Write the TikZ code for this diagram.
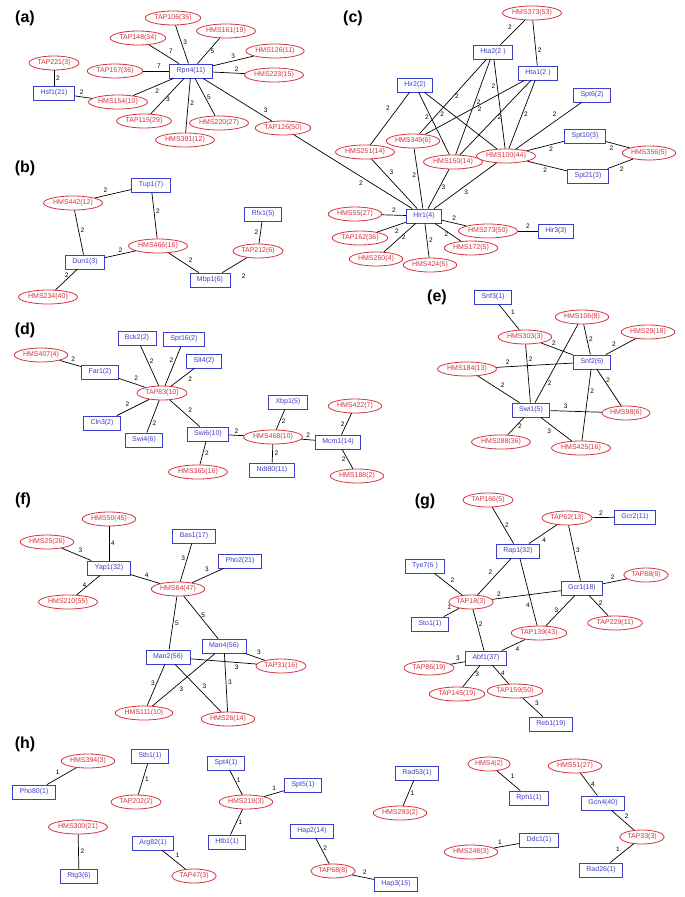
\documentclass[tikz,border=0pt]{standalone}
\usepackage{fontspec}
\setmainfont{Liberation Sans}
\usepackage{xcolor}
\usepackage{tikz}
\usetikzlibrary{shapes.geometric}

\definecolor{tapred}{RGB}{214,52,62}
\definecolor{tfblue}{RGB}{62,62,205}

\begin{document}
\begin{tikzpicture}[x = 1pt, y = -1pt,
		tap/.style = {ellipse, draw = tapred, text = tapred, fill = white, line width = 0.8pt, inner xsep = 1pt, inner ysep = 0pt, minimum height = 14pt, font = \fontsize{7}{8}\selectfont},
		tf/.style = {rectangle, draw = tfblue, text = tfblue, fill = white, line width = 0.8pt, inner xsep = 7pt, inner ysep = 0pt, minimum height = 14pt, font = \fontsize{7}{8}\selectfont},
		link/.style = {line width = 0.7pt},
		num/.style = {font = \fontsize{6.5}{7}\selectfont, inner sep = 1.8pt},
		panel/.style = {font = \fontsize{16}{18}\selectfont\bfseries}]
		\useasboundingbox (0,0) rectangle (685,897);

		% (a)
		\node [panel] (lbla) at (25,18) {(a)};
		\node [tap] (tap106) at (173,18) {TAP106(35)};
		\node [tap] (hms161) at (226,31) {HMS161(19)};
		\node [tap] (tap148) at (138,38) {TAP148(34)};
		\node [tap] (hms126) at (275,51) {HMS126(11)};
		\node [tap] (tap221) at (54,63) {TAP221(3)};
		\node [tap] (tap157) at (115,71) {TAP157(36)};
		\node [tf] (rpn4) at (191,71) {Rpn4(11)};
		\node [tap] (hms223) at (274,75) {HMS223(15)};
		\node [tf] (hsf1) at (54,93) {Hsf1(21)};
		\node [tap] (hms154) at (118,102) {HMS154(10)};
		\node [tap] (tap115) at (144,121) {TAP115(29)};
		\node [tap] (hms220) at (219,123) {HMS220(27)};
		\node [tap] (tap126) at (283,128) {TAP126(50)};
		\node [tap] (hms391) at (185,140) {HMS391(12)};

		% (c)
		\node [panel] (lblc) at (353,18) {(c)};
		\node [tap] (hms373) at (532,13) {HMS373(53)};
		\node [tf] (hta2) at (493,52) {Hta2(2 )};
		\node [tf] (hta1) at (538,73) {Hta1(2 )};
		\node [tf] (hir2) at (415,85) {Hir2(2)};
		\node [tf] (spt6) at (592,95) {Spt6(2)};
		\node [tf] (spt10) at (585,136) {Spt10(3)};
		\node [tap] (hms349) at (413,141) {HMS349(6)};
		\node [tap] (hms251) at (365,152) {HMS251(14)};
		\node [tap] (hms150) at (453,162) {HMS150(14)};
		\node [tap] (hms100) at (506,156) {HMS100(44)};
		\node [tap] (hms356) at (649,153) {HMS356(5)};
		\node [tf] (spt21) at (588,176) {Spt21(3)};
		\node [tf] (hir1) at (424,216) {Hir1(4)};
		\node [tap] (hms55) at (355,214) {HMS55(27)};
		\node [tap] (tap162) at (360,238) {TAP162(36)};
		\node [tap] (hms273) at (488,231) {HMS273(50)};
		\node [tf] (hir3) at (556,231) {Hir3(3)};
		\node [tap] (hms172) at (471,248) {HMS172(5)};
		\node [tap] (hms250) at (376,259) {HMS250(4)};
		\node [tap] (hms424) at (430,265) {HMS424(5)};

		% (b)
		\node [panel] (lblb) at (25,168) {(b)};
		\node [tf] (tup1) at (151,185) {Tup1(7)};
		\node [tap] (hms442) at (73,203) {HMS442(12)};
		\node [tf] (rfx1) at (263,214) {Rfx1(5)};
		\node [tap] (hms466) at (158,246) {HMS466(16)};
		\node [tap] (tap212) at (258,251) {TAP212(6)};
		\node [tf] (dun1) at (85,262) {Dun1(3)};
		\node [tf] (mbp1) at (210,280) {Mbp1(6)};
		\node [tap] (hms234) at (48,297) {HMS234(40)};

		% (d)
		\node [panel] (lbld) at (25,330) {(d)};
		\node [tf] (bck2) at (137,338) {Bck2(2)};
		\node [tf] (spt16) at (184,339) {Spt16(2)};
		\node [tf] (slt4) at (204,361) {Slt4(2)};
		\node [tap] (hms407) at (41,355) {HMS407(4)};
		\node [tf] (far1) at (100,372) {Far1(2)};
		\node [tap] (tap83) at (162,393) {TAP83(10)};
		\node [tf] (xbp1) at (288,402) {Xbp1(5)};
		\node [tap] (hms422) at (355,406) {HMS422(7)};
		\node [tf] (cln3) at (102,423) {Cln3(2)};
		\node [tf] (swi4) at (144,440) {Swi4(6)};
		\node [tf] (swi6) at (208,434) {Swi6(10)};
		\node [tap] (hms468) at (273,437) {HMS468(10)};
		\node [tf] (mcm1) at (338,442) {Mcm1(14)};
		\node [tap] (hms365) at (198,472) {HMS365(16)};
		\node [tf] (ndt80) at (272,470) {Ndt80(11)};
		\node [tap] (hms188) at (357,476) {HMS188(2)};

		% (e)
		\node [panel] (lble) at (437,297) {(e)};
		\node [tf] (snf3) at (493,297) {Snf3(1)};
		\node [tap] (hms106) at (582,317) {HMS106(8)};
		\node [tap] (hms29) at (648,332) {HMS29(18)};
		\node [tap] (hms303) at (525,337) {HMS303(3)};
		\node [tf] (snf2) at (592,362) {Snf2(6)};
		\node [tap] (hms184) at (467,369) {HMS184(13)};
		\node [tf] (swi1) at (531,410) {Swi1(5)};
		\node [tap] (hms98) at (626,413) {HMS98(6)};
		\node [tap] (hms288) at (501,442) {HMS288(36)};
		\node [tap] (hms425) at (581,448) {HMS425(16)};

		% (f)
		\node [panel] (lblf) at (23,500) {(f)};
		\node [tap] (hms50) at (109,519) {HMS50(45)};
		\node [tap] (hms25) at (47,542) {HMS25(26)};
		\node [tf] (bas1) at (194,536) {Bas1(17)};
		\node [tf] (yap1) at (109,568) {Yap1(32)};
		\node [tf] (pho2) at (240,561) {Pho2(21)};
		\node [tap] (hms84) at (178,589) {HMS84(47)};
		\node [tap] (hms210) at (68,602) {HMS210(55)};
		\node [tf] (man4) at (224,646) {Man4(56)};
		\node [tf] (man2) at (168,657) {Man2(56)};
		\node [tap] (tap31) at (281,666) {TAP31(16)};
		\node [tap] (hms111) at (144,713) {HMS111(10)};
		\node [tap] (hms26) at (228,719) {HMS26(14)};

		% (g)
		\node [panel] (lblg) at (425,501) {(g)};
		\node [tap] (tap166) at (488,500) {TAP166(5)};
		\node [tap] (tap62) at (567,518) {TAP62(13)};
		\node [tf] (gcr2) at (635,517) {Gcr2(11)};
		\node [tf] (rap1) at (518,551) {Rap1(32)};
		\node [tf] (tye7) at (425,566) {Tye7(6 )};
		\node [tap] (tap88) at (646,575) {TAP88(9)};
		\node [tf] (gcr1) at (582,588) {Gcr1(18)};
		\node [tap] (tap18) at (471,602) {TAP18(3)};
		\node [tf] (sto1) at (430,624) {Sto1(1)};
		\node [tap] (tap229) at (615,623) {TAP229(11)};
		\node [tap] (tap139) at (539,633) {TAP139(43)};
		\node [tf] (abf1) at (486,658) {Abf1(37)};
		\node [tap] (tap86) at (429,668) {TAP86(19)};
		\node [tap] (tap145) at (457,694) {TAP145(19)};
		\node [tap] (tap159) at (515,691) {TAP159(50)};
		\node [tf] (reb1) at (551,724) {Reb1(19)};

		% (h)
		\node [panel] (lblh) at (25,744) {(h)};
		\node [tap] (hms394) at (88,761) {HMS394(3)};
		\node [tf] (pho80) at (34,792) {Pho80(1)};
		\node [tf] (stb1) at (150,756) {Stb1(1)};
		\node [tap] (tap202) at (136,802) {TAP202(2)};
		\node [tf] (spt4) at (226,763) {Spt4(1)};
		\node [tf] (spt5) at (303,785) {Spt5(1)};
		\node [tap] (hms219) at (246,802) {HMS219(3)};
		\node [tap] (hms300) at (78,827) {HMS300(21)};
		\node [tf] (arg82) at (153,843) {Arg82(1)};
		\node [tf] (htb1) at (227,842) {Htb1(1)};
		\node [tf] (hap2) at (312,831) {Hap2(14)};
		\node [tf] (rtg3) at (79,876) {Rtg3(6)};
		\node [tap] (tap47) at (194,876) {TAP47(3)};
		\node [tap] (tap68) at (333,871) {TAP68(8)};
		\node [tf] (hap3) at (396,884) {Hap3(15)};
		\node [tf] (rad53) at (417,773) {Rad53(1)};
		\node [tap] (hms293) at (400,813) {HMS293(2)};
		\node [tap] (hms4) at (489,764) {HMS4(2)};
		\node [tf] (rph1) at (529,798) {Rph1(1)};
		\node [tap] (hms51) at (575,766) {HMS51(27)};
		\node [tf] (gcn4) at (603,803) {Gcn4(40)};
		\node [tap] (tap33) at (642,837) {TAP33(3)};
		\node [tf] (ddc1) at (539,840) {Ddc1(1)};
		\node [tap] (hms248) at (471,852) {HMS248(3)};
		\node [tf] (rad26) at (601,870) {Rad26(1)};

		% links (a)
		\draw [link] (tap221) -- node [num, right] {2} (hsf1);
		\draw [link] (hsf1) -- node [num, above, pos = .4] {2} (hms154);
		\draw [link] (hms154) -- node [num, below right] {2} (rpn4);
		\draw [link] (tap157) -- node [num, above, pos = .6] {7} (rpn4);
		\draw [link] (tap148) -- node [num, above right, pos = .6] {7} (rpn4);
		\draw [link] (tap106) -- node [num, right, pos = .45] {3} (rpn4);
		\draw [link] (hms161) -- node [num, right] {5} (rpn4);
		\draw [link] (rpn4) -- node [num, above] {3} (hms126);
		\draw [link] (rpn4) -- node [num, above, pos = .75] {2} (hms223);
		\draw [link] (rpn4) -- node [num, right, pos = .6] {3} (tap115);
		\draw [link] (rpn4) -- node [num, right, pos = .45] {2} (hms391);
		\draw [link] (rpn4) -- node [num, right] {5} (hms220);
		\draw [link] (rpn4) -- node [num, above right, pos = .85] {3} (tap126);
		\draw [link] (tap126) -- node [num, below left, pos = .6] {2} (hir1);

		% links (c)
		\draw [link] (hms373) -- node [num, above left, pos = .45] {2} (hta2);
		\draw [link] (hms373) -- node [num, right, pos = .65] {2} (hta1);
		\draw [link] (hta2) -- node [num, right] {2} (hms349);
		\draw [link] (hta2) -- node [num, right, pos = .45] {2} (hms150);
		\draw [link] (hta2) -- node [num, left, pos = .3] {2} (hms100);
		\draw [link] (hta1) -- node [num, below, pos = .45] {2} (hms349);
		\draw [link] (hta1) -- node [num, right] {2} (hms150);
		\draw [link] (hta1) -- node [num, right] {2} (hms100);
		\draw [link] (hir2) -- node [num, left = 6pt, pos = .3] {2} (hms251);
		\draw [link] (hir2) -- node [num, left, pos = .4] {2} (hms150);
		\draw [link] (hir2) -- node [num, below left, pos = .3] {2} (hms100);
		\draw [link] (spt6) -- node [num, above left, pos = .35] {2} (hms100);
		\draw [link] (spt10) -- node [num, below, pos = .35] {2} (hms100);
		\draw [link] (spt10) -- node [num, below left, pos = .4] {2} (hms356);
		\draw [link] (hms100) -- node [num, below, pos = .45] {2} (spt21);
		\draw [link] (spt21) -- node [num, below right, pos = .4] {2} (hms356);
		\draw [link] (hms251) -- node [num, above right, pos = .35] {3} (hir1);
		\draw [link] (hms349) -- node [num, left, pos = .45] {2} (hir1);
		\draw [link] (hms150) -- node [num, right, pos = .45] {3} (hir1);
		\draw [link] (hms100) -- node [num, below right, pos = .55] {3} (hir1);
		\draw [link] (hms55) -- node [num, above] {2} (hir1);
		\draw [link] (tap162) -- node [num, below right, pos = .55] {2} (hir1);
		\draw [link] (hms250) -- node [num, right] {2} (hir1);
		\draw [link] (hms424) -- node [num, right] {2} (hir1);
		\draw [link] (hir1) -- node [num, left, pos = .6] {2} (hms172);
		\draw [link] (hir1) -- node [num, above] {2} (hms273);
		\draw [link] (hms273) -- node [num, above] {2} (hir3);

		% links (b)
		\draw [link] (hms442) -- node [num, above left, pos = .4] {2} (tup1);
		\draw [link] (tup1) -- node [num, right, pos = .4] {2} (hms466);
		\draw [link] (hms442) -- node [num, right, pos = .45] {2} (dun1);
		\draw [link] (dun1) -- node [num, above] {2} (hms466);
		\draw [link] (hms466) -- node [num, above right, pos = .6] {2} (mbp1);
		\draw [link] (mbp1) -- node [num, pos = .3, xshift = 14pt, yshift = -8pt] {2} (tap212);
		\draw [link] (rfx1) -- node [num, left] {2} (tap212);
		\draw [link] (dun1) -- node [num, left, pos = .3] {2} (hms234);

		% links (d)
		\draw [link] (hms407) -- node [num, above right, pos = .45] {2} (far1);
		\draw [link] (far1) -- node [num, above right] {2} (tap83);
		\draw [link] (bck2) -- node [num, right, pos = .4] {2} (tap83);
		\draw [link] (spt16) -- node [num, left, pos = .35] {2} (tap83);
		\draw [link] (slt4) -- node [num, below right, pos = .35] {2} (tap83);
		\draw [link] (tap83) -- node [num, above left, pos = .55] {2} (cln3);
		\draw [link] (tap83) -- node [num, right, pos = .7] {2} (swi4);
		\draw [link] (tap83) -- node [num, above right, pos = .55] {2} (swi6);
		\draw [link] (swi6) -- node [num, above] {2} (hms468);
		\draw [link] (swi6) -- node [num, right] {2} (hms365);
		\draw [link] (hms468) -- node [num, right, pos = .4] {2} (xbp1);
		\draw [link] (hms468) -- node [num, right] {2} (ndt80);
		\draw [link] (hms468) -- node [num, above] {2} (mcm1);
		\draw [link] (mcm1) -- node [num, left] {2} (hms422);
		\draw [link] (mcm1) -- node [num, left] {2} (hms188);

		% links (e)
		\draw [link] (snf3) -- node [num, above right] {1} (hms303);
		\draw [link] (hms303) -- node [num, above, pos = .4] {2} (snf2);
		\draw [link] (hms303) -- node [num, right, pos = .25] {2} (swi1);
		\draw [link] (hms106) -- node [num, right] {2} (snf2);
		\draw [link] (hms106) -- node [num, right, pos = .75] {2} (swi1);
		\draw [link] (hms29) -- node [num, above left, pos = .6] {2} (snf2);
		\draw [link] (hms184) -- node [num, above, pos = .15] {2} (snf2);
		\draw [link] (hms184) -- node [num, above right] {2} (swi1);
		\draw [link] (snf2) -- node [num, right, pos = .3] {2} (hms98);
		\draw [link] (snf2) -- node [num, right, pos = .3] {2} (hms425);
		\draw [link] (swi1) -- node [num, above, pos = .3] {3} (hms98);
		\draw [link] (swi1) -- node [num, right] {2} (hms288);
		\draw [link] (swi1) -- node [num, below left, pos = .4] {3} (hms425);

		% links (f)
		\draw [link] (hms50) -- node [num, right] {4} (yap1);
		\draw [link] (hms25) -- node [num, above right] {3} (yap1);
		\draw [link] (yap1) -- node [num, left] {4} (hms210);
		\draw [link] (yap1) -- node [num, above, pos = .55] {4} (hms84);
		\draw [link] (bas1) -- node [num, left, pos = .4] {3} (hms84);
		\draw [link] (pho2) -- node [num, above left, pos = .4] {3} (hms84);
		\draw [link] (hms84) -- node [num, right] {5} (man2);
		\draw [link] (hms84) -- node [num, right, pos = .45] {5} (man4);
		\draw [link] (man4) -- node [num, above right] {3} (tap31);
		\draw [link] (man2) -- node [num, below, pos = .7] {3} (tap31);
		\draw [link] (man2) -- node [num, left, pos = .45] {3} (hms111);
		\draw [link] (man4) -- node [num, below right, pos = .6] {3} (hms111);
		\draw [link] (man2) -- node [num, above right, pos = .55] {3} (hms26);
		\draw [link] (man4) -- node [num, right] {3} (hms26);

		% links (g)
		\draw [link] (tap166) -- node [num, right] {2} (rap1);
		\draw [link] (rap1) -- node [num, below right, pos = .4] {4} (tap62);
		\draw [link] (tap62) -- node [num, above, pos = .4] {2} (gcr2);
		\draw [link] (tap62) -- node [num, right, pos = .45] {3} (gcr1);
		\draw [link] (tye7) -- node [num, above right] {2} (tap18);
		\draw [link] (rap1) -- node [num, above left] {2} (tap18);
		\draw [link] (tap18) -- node [num, above, pos = .1] {2} (gcr1);
		\draw [link] (gcr1) -- node [num, above, pos = .4] {2} (tap88);
		\draw [link] (sto1) -- node [num, above left, pos = .6] {1} (tap18);
		\draw [link] (rap1) -- node [num, left, pos = .7] {4} (tap139);
		\draw [link] (gcr1) -- node [num, left] {3} (tap139);
		\draw [link] (gcr1) -- node [num, right, pos = .4] {2} (tap229);
		\draw [link] (tap18) -- node [num, right, pos = .35] {2} (abf1);
		\draw [link] (tap139) -- node [num, below right] {4} (abf1);
		\draw [link] (tap86) -- node [num, above] {3} (abf1);
		\draw [link] (abf1) -- node [num, right, pos = .4] {3} (tap145);
		\draw [link] (abf1) -- node [num, right, pos = .4] {4} (tap159);
		\draw [link] (tap159) -- node [num, above right] {3} (reb1);

		% links (h)
		\draw [link] (hms394) -- node [num, above left] {1} (pho80);
		\draw [link] (stb1) -- node [num, right] {1} (tap202);
		\draw [link] (spt4) -- node [num, right, pos = .4] {1} (hms219);
		\draw [link] (spt5) -- node [num, above left, pos = .3] {1} (hms219);
		\draw [link] (hms219) -- node [num, right] {1} (htb1);
		\draw [link] (hms300) -- node [num, right] {2} (rtg3);
		\draw [link] (arg82) -- node [num, above right] {1} (tap47);
		\draw [link] (hap2) -- node [num, right, pos = .4] {2} (tap68);
		\draw [link] (tap68) -- node [num, above right, pos = .4] {2} (hap3);
		\draw [link] (rad53) -- node [num, right] {1} (hms293);
		\draw [link] (hms4) -- node [num, above right] {1} (rph1);
		\draw [link] (hms51) -- node [num, right] {4} (gcn4);
		\draw [link] (gcn4) -- node [num, above right] {2} (tap33);
		\draw [link] (tap33) -- node [num, above left] {1} (rad26);
		\draw [link] (hms248) -- node [num, above left, pos = .4] {1} (ddc1);
	\end{tikzpicture}
\end{document}
